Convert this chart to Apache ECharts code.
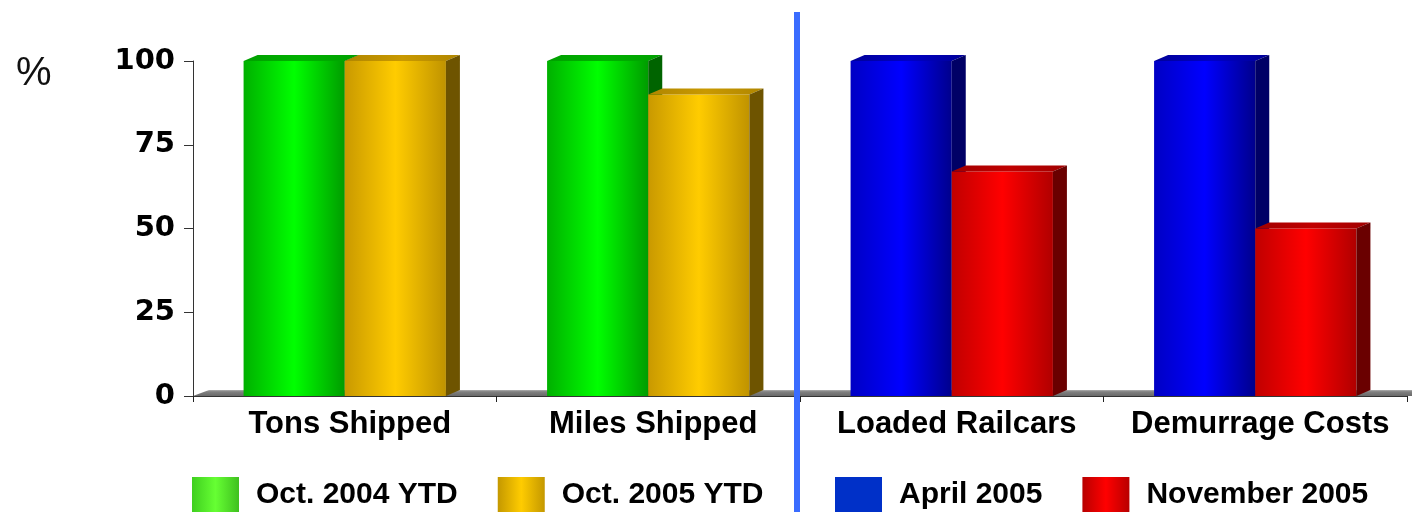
<!DOCTYPE html>
<html>
<head>
<meta charset="utf-8">
<script src="https://cdn.jsdelivr.net/npm/echarts@6/dist/echarts.min.js"></script>
<style>
  html, body { margin: 0; padding: 0; background: #fff; }
  #chart { width: 1412px; height: 512px; }
</style>
</head>
<body>
<div id="chart"></div>
<script>
// Categories and values (percent)
const categories = ['Tons Shipped', 'Miles Shipped', 'Loaded Railcars', 'Demurrage Costs'];
const oct2004YTD = [100, 100, null, null];
const oct2005YTD = [100, 90, null, null];
const april2005 = [null, null, 100, 100];
const november2005 = [null, null, 67, 50];
const yTicks = [0, 25, 50, 75, 100];

// 3D shading palettes: front gradient stops, top face, side face
const palettes = {
  green: { front: ['#00b000', '#00ff00', '#009c00'], top: '#00a000', side: '#006400', legend: ['#3fcf1f', '#66ff33', '#3fc01f'] },
  gold:  { front: ['#c99900', '#ffcc00', '#c09300'], top: '#b08600', side: '#6e5400', legend: ['#c49800', '#ffcc00', '#c49800'] },
  blue:  { front: ['#0000c4', '#0000ff', '#00008c'], top: '#000098', side: '#000066', legend: ['#0030c8', '#0030c8', '#0030c8'] },
  red:   { front: ['#c00000', '#ff0000', '#b00000'], top: '#a00000', side: '#6a0000', legend: ['#b80000', '#ff0000', '#b80000'] }
};

const DX = 14, DY = 6;

function hGrad(stops) {
  return new echarts.graphic.LinearGradient(0, 0, 1, 0, [
    { offset: 0, color: stops[0] },
    { offset: 0.5, color: stops[1] },
    { offset: 1, color: stops[2] }
  ]);
}

function toPairs(arr) {
  const out = [];
  arr.forEach(function (v, i) { if (v != null) out.push([i, v]); });
  return out;
}

function bar3D(slot, pal) {
  return function (params, api) {
    const idx = api.value(0);
    const val = api.value(1);
    const base = api.coord([idx, 0]);
    const top = api.coord([idx, val]);
    const band = api.size([1, 0])[0];
    const w = band / 3;
    const x0 = base[0] + (slot === 0 ? -w : 0);
    const yb = base[1];
    const yt = top[1];
    return {
      type: 'group',
      children: [
        {
          type: 'rect',
          shape: { x: x0, y: yt, width: w, height: yb - yt },
          style: { fill: hGrad(pal.front) }
        },
        {
          type: 'polygon',
          shape: { points: [[x0, yt], [x0 + DX, yt - DY], [x0 + w + DX, yt - DY], [x0 + w, yt]] },
          style: { fill: new echarts.graphic.LinearGradient(0, 0, 1, 0, [
            { offset: 0, color: pal.top }, { offset: 0.5, color: pal.front[0] }, { offset: 1, color: pal.top }
          ]) }
        },
        {
          type: 'polygon',
          shape: { points: [[x0 + w, yt], [x0 + w + DX, yt - DY], [x0 + w + DX, yb - DY], [x0 + w, yb]] },
          style: { fill: pal.side }
        }
      ]
    };
  };
}

function floorItem(params, api) {
  const cs = params.coordSys;
  const yb = cs.y + cs.height;
  const xl = cs.x;
  const xr = cs.x + cs.width + 30;
  return {
    type: 'group',
    children: [
      {
        type: 'polygon',
        shape: { points: [[xl, yb], [xl + DX + 2, yb - DY], [xr, yb - DY], [xr, yb]] },
        style: { fill: new echarts.graphic.LinearGradient(0, 0, 0, 1, [
          { offset: 0, color: '#b0b0b0' }, { offset: 0.3, color: '#808080' }, { offset: 1, color: '#6a6a6a' }
        ]) }
      }
    ]
  };
}

const chart = echarts.init(document.getElementById('chart'), null, { renderer: 'canvas' });

const legendText = {
  fontFamily: 'Liberation Sans, Arial, sans-serif',
  fontSize: 30,
  fontWeight: 'bold',
  color: '#000',
  padding: [0, 0, 0, 12]
};

const option = {
  backgroundColor: '#ffffff',
  animation: false,
  title: {
    text: '%',
    left: 11,
    top: 49,
    textStyle: { fontFamily: 'Liberation Sans, Arial, sans-serif', fontSize: 40, fontWeight: 'normal', color: '#111' }
  },
  grid: { left: 193, right: 5, top: 61, bottom: 116 },
  legend: [
    {
      left: 192, top: 477, padding: 0,
      itemWidth: 47, itemHeight: 36, itemGap: 40,
      textStyle: legendText,
      selectedMode: false,
      data: [
        { name: 'Oct. 2004 YTD', icon: 'rect', itemStyle: { color: hGrad(palettes.green.legend) } },
        { name: 'Oct. 2005 YTD', icon: 'rect', itemStyle: { color: hGrad(palettes.gold.legend) } }
      ]
    },
    {
      left: 835, top: 477, padding: 0,
      itemWidth: 47, itemHeight: 36, itemGap: 40,
      textStyle: legendText,
      selectedMode: false,
      data: [
        { name: 'April 2005', icon: 'rect', itemStyle: { color: hGrad(palettes.blue.legend) } },
        { name: 'November 2005', icon: 'rect', itemStyle: { color: hGrad(palettes.red.legend) } }
      ]
    }
  ],
  xAxis: {
    type: 'category',
    data: categories,
    axisLine: { show: true, lineStyle: { color: '#333', width: 1 } },
    axisTick: { show: true, length: 6, lineStyle: { color: '#222' } },
    axisLabel: {
      margin: 13,
      padding: [0, 0, 0, 10],
      fontFamily: 'Liberation Sans, Arial, sans-serif',
      fontSize: 31,
      fontWeight: 'bold',
      color: '#000',
      interval: 0
    },
    splitLine: { show: false }
  },
  yAxis: {
    type: 'value',
    min: yTicks[0],
    max: yTicks[yTicks.length - 1],
    interval: yTicks[1] - yTicks[0],
    axisLine: { show: true, lineStyle: { color: '#333', width: 1 } },
    axisTick: { show: true, length: 9, lineStyle: { color: '#333' } },
    axisLabel: {
      margin: 18,
      fontFamily: 'DejaVu Sans, sans-serif',
      fontSize: 29,
      fontWeight: 'bold',
      color: '#000'
    },
    splitLine: { show: false }
  },
  series: [
    {
      type: 'custom', name: 'floor', silent: true, clip: false, z: 1,
      data: [[0, 0]], renderItem: floorItem, encode: { x: 0, y: 1 }
    },
    {
      type: 'custom', name: 'Oct. 2004 YTD', clip: false, z: 3,
      itemStyle: { color: palettes.green.front[1] },
      data: toPairs(oct2004YTD), encode: { x: 0, y: 1 }, renderItem: bar3D(0, palettes.green)
    },
    {
      type: 'custom', name: 'Oct. 2005 YTD', clip: false, z: 3,
      itemStyle: { color: palettes.gold.front[1] },
      data: toPairs(oct2005YTD), encode: { x: 0, y: 1 }, renderItem: bar3D(1, palettes.gold)
    },
    {
      type: 'custom', name: 'April 2005', clip: false, z: 3,
      itemStyle: { color: palettes.blue.front[1] },
      data: toPairs(april2005), encode: { x: 0, y: 1 }, renderItem: bar3D(0, palettes.blue)
    },
    {
      type: 'custom', name: 'November 2005', clip: false, z: 3,
      itemStyle: { color: palettes.red.front[1] },
      data: toPairs(november2005), encode: { x: 0, y: 1 }, renderItem: bar3D(1, palettes.red)
    }
  ]
};

chart.setOption(option);

// Divider between the two category groups, placed from the category axis
const xLeft = chart.convertToPixel({ xAxisIndex: 0 }, categories[1]);
const xRight = chart.convertToPixel({ xAxisIndex: 0 }, categories[2]);
const divX = (xLeft + xRight) / 2 - 3;
chart.setOption({
  graphic: [{
    type: 'line',
    z: 100,
    shape: { x1: divX, y1: 12, x2: divX, y2: 512 },
    style: { stroke: '#3a6cff', lineWidth: 6 }
  }]
});
</script>
</body>
</html>
